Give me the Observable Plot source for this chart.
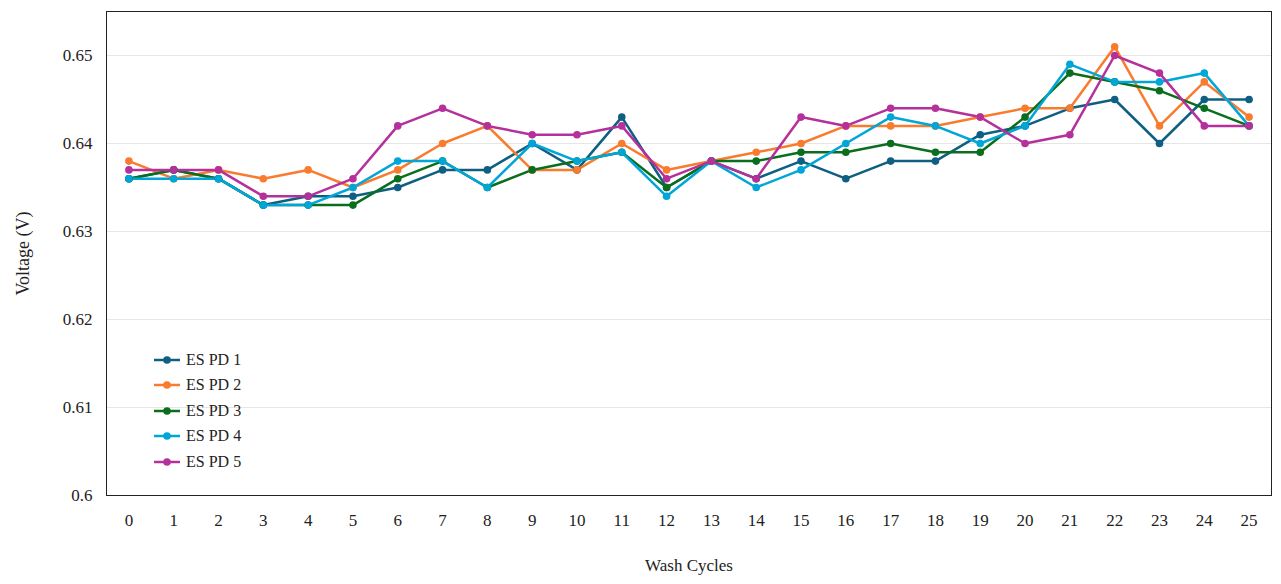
<!DOCTYPE html>
<html><head><meta charset="utf-8">
<script src="https://cdn.jsdelivr.net/npm/d3@7"></script>
<script src="https://cdn.jsdelivr.net/npm/@observablehq/plot@0.6"></script>
<style>
body{margin:0;background:#fff;font-family:"Liberation Serif",serif;}
#wrap{position:relative;width:1281px;height:584px;}
#legend{position:absolute;left:152px;top:347px;font-size:16px;color:#222;}
#legend div{display:flex;align-items:center;height:25.5px;}
#legend svg{margin-right:4px;}
</style></head><body>
<div id="wrap"><div id="chart"></div><div id="legend"></div></div>
<script>
const cycles = d3.range(0, 26);
const seriesNames = ["ES PD 1","ES PD 2","ES PD 3","ES PD 4","ES PD 5"];
const colors = ["#0e5f82","#f97b2e","#0a6e1e","#00a6d8","#b5309b"];
const pd1 = [.636,.637,.636,.633,.634,.634,.635,.637,.637,.640,.637,.643,.635,.638,.636,.638,.636,.638,.638,.641,.642,.644,.645,.640,.645,.645];
const pd2 = [.638,.636,.637,.636,.637,.635,.637,.640,.642,.637,.637,.640,.637,.638,.639,.640,.642,.642,.642,.643,.644,.644,.651,.642,.647,.643];
const pd3 = [.636,.637,.636,.633,.633,.633,.636,.638,.635,.637,.638,.639,.635,.638,.638,.639,.639,.640,.639,.639,.643,.648,.647,.646,.644,.642];
const pd4 = [.636,.636,.636,.633,.633,.635,.638,.638,.635,.640,.638,.639,.634,.638,.635,.637,.640,.643,.642,.640,.642,.649,.647,.647,.648,.642];
const pd5 = [.637,.637,.637,.634,.634,.636,.642,.644,.642,.641,.641,.642,.636,.638,.636,.643,.642,.644,.644,.643,.640,.641,.650,.648,.642,.642];
const yTicks = [0.6,0.61,0.62,0.63,0.64,0.65];
const all = [pd1,pd2,pd3,pd4,pd5];
const data = all.flatMap((s,i)=>s.map((v,j)=>({cycle:cycles[j],v,series:seriesNames[i]})));
const plot = Plot.plot({
  width:1281, height:584,
  marginLeft:106, marginRight:10, marginTop:11, marginBottom:89,
  style:{fontFamily:"Liberation Serif, serif", fontSize:"17px", color:"#222"},
  x:{domain:[-0.5,25.5], ticks:cycles, tickFormat:d=>d, tickSize:0, tickPadding:18, label:"Wash Cycles", labelAnchor:"center", labelArrow:"none", labelOffset:75},
  y:{domain:[0.6,0.655], ticks:yTicks, tickFormat:d=>d===0.6?"0.6":d3.format(".2f")(d), tickSize:0, tickPadding:14, label:"Voltage (V)", labelAnchor:"center", labelArrow:"none", labelOffset:90},
  color:{domain:seriesNames, range:colors},
  marks:[
    Plot.gridY(yTicks.slice(1),{stroke:"#e6e6e6",strokeOpacity:1}),
    Plot.frame({stroke:"#222"}),
    Plot.line(data,{x:"cycle",y:"v",stroke:"series",strokeWidth:2.5}),
    Plot.dot(data,{x:"cycle",y:"v",fill:"series",r:3.8})
  ]
});
document.getElementById("chart").appendChild(plot);
d3.selectAll("#chart svg text").filter(function(){return this.textContent==="Voltage (V)";}).style("font-size","18px");
const lg = d3.select("#legend");
seriesNames.forEach((n,i)=>{
  const row = lg.append("div");
  const s = row.append("svg").attr("width",30).attr("height",12);
  s.append("line").attr("x1",2).attr("x2",28).attr("y1",6).attr("y2",6).attr("stroke",colors[i]).attr("stroke-width",2.5);
  s.append("circle").attr("cx",15).attr("cy",6).attr("r",3.8).attr("fill",colors[i]);
  row.append("span").text(n);
});
</script></body></html>
